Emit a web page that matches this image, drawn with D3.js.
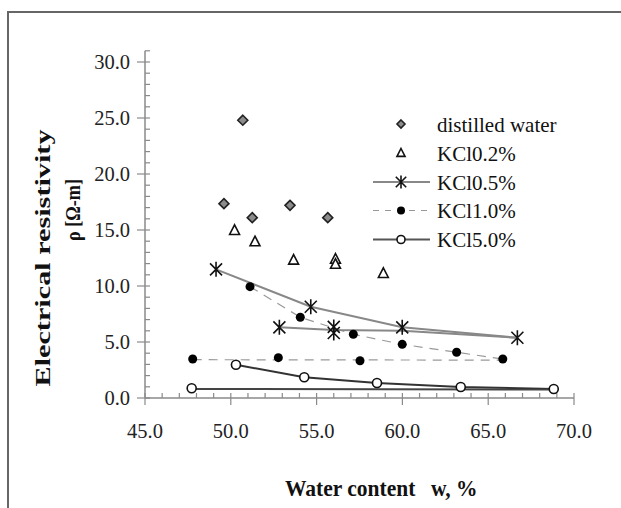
<!DOCTYPE html>
<html><head><meta charset="utf-8">
<script src="https://cdn.jsdelivr.net/npm/d3@7"></script>
<style>html,body{margin:0;padding:0;background:#fff;}svg{display:block;}</style>
</head><body>
<svg id="c" width="621" height="508"></svg>
<script>
// ---- data ----
const xTicks = [45, 50, 55, 60, 65, 70];
const yTicks = [0, 5, 10, 15, 20, 25, 30];
const legendLabels = ["distilled water", "KCl0.2%", "KCl0.5%", "KCl1.0%", "KCl5.0%"];

const waterW   = [50.7, 49.6, 51.25, 53.45, 55.65];
const waterRho = [24.8, 17.35, 16.1, 17.2, 16.1];

const kcl02W   = [50.22, 51.41, 53.66, 56.1, 56.1, 58.89];
const kcl02Rho = [14.97, 13.96, 12.32, 12.4, 11.95, 11.13];

const kcl05aW   = [49.14, 54.66, 59.99, 66.7];
const kcl05aRho = [11.49, 8.15, 6.31, 5.38];
const kcl05bW   = [52.83, 56.0, 56.0];
const kcl05bRho = [6.31, 6.35, 5.8];
const kcl05bLineW   = [52.83, 56.0, 60.0, 66.7];
const kcl05bLineRho = [6.31, 6.07, 6.0, 5.38];

const kcl10aW   = [51.12, 54.05, 57.14, 59.99, 63.16, 65.85];
const kcl10aRho = [9.94, 7.21, 5.69, 4.79, 4.08, 3.48];
const kcl10bW   = [47.78, 52.77, 57.53];
const kcl10bRho = [3.48, 3.6, 3.33];
const kcl10bLineW   = [47.78, 65.85];
const kcl10bLineRho = [3.42, 3.38];

const kcl50aW   = [50.3, 54.28, 58.52, 63.4, 68.82];
const kcl50aRho = [2.97, 1.85, 1.34, 0.98, 0.8];
const kcl50bW   = [47.72];
const kcl50bRho = [0.87];
const kcl50bLineW   = [47.72, 68.82];
const kcl50bLineRho = [0.8, 0.76];

// ---- drawing ----
const FONT = "Liberation Serif";
const svg = d3.select("#c").attr("font-family", FONT);
const x = d3.scaleLinear().domain([45, 70]).range([145, 574]);
const y = d3.scaleLinear().domain([0, 31]).range([398, 50.8]);
const axisCol = "#8a8a8a";

// frame
svg.append("path").attr("d", "M8,510 L8,12 L625,12").attr("fill", "none").attr("stroke", "#666").attr("stroke-width", 2);

// y axis
const gy = svg.append("g");
gy.append("line").attr("x1", x(45)).attr("x2", x(45)).attr("y1", y(0)).attr("y2", y(31)).attr("stroke", axisCol).attr("stroke-width", 1.5);
d3.range(0, 32, 1).forEach(v => {
  const major = v % 5 === 0;
  gy.append("line").attr("x1", x(45) - (major ? 8 : 0)).attr("x2", x(45) + 5)
    .attr("y1", y(v)).attr("y2", y(v)).attr("stroke", axisCol).attr("stroke-width", 1.2);
});
gy.selectAll("text.yt").data(yTicks).join("text").attr("class", "yt")
  .attr("x", 130).attr("y", d => y(d) + 7).attr("text-anchor", "end").attr("font-family", FONT)
  .attr("font-size", 20.5).attr("fill", "#222").text(d => d.toFixed(1));

// x axis
const gx = svg.append("g");
gx.append("line").attr("x1", x(45)).attr("x2", x(70)).attr("y1", y(0)).attr("y2", y(0)).attr("stroke", axisCol).attr("stroke-width", 1.5);
d3.range(45, 71, 1).forEach(v => {
  const major = v % 5 === 0;
  gx.append("line").attr("x1", x(v)).attr("x2", x(v))
    .attr("y1", y(0) - 5).attr("y2", y(0) + (major ? 7 : 0)).attr("stroke", axisCol).attr("stroke-width", 1.2);
});
gx.selectAll("text.xt").data(xTicks).join("text").attr("class", "xt")
  .attr("x", d => x(d)).attr("y", 438).attr("text-anchor", "middle").attr("font-family", FONT)
  .attr("font-size", 20.5).attr("fill", "#222").text(d => d.toFixed(1));

// axis titles
const xt = svg.append("text").attr("transform", "translate(0,496) scale(1,1.1)").attr("font-size", 21.5).attr("font-weight", "bold").attr("fill", "#111").attr("font-family", FONT);
xt.append("tspan").attr("x", 285).attr("y", 0).text("Water content");
xt.append("tspan").attr("x", 431).attr("y", 0).text("w, %");

svg.append("text").attr("transform", "translate(50,258) rotate(-90)").attr("text-anchor", "middle").attr("font-family", FONT)
  .attr("font-size", 22).attr("font-weight", "bold").attr("fill", "#111")
  .attr("textLength", 257).attr("lengthAdjust", "spacingAndGlyphs").text("Electrical resistivity");
svg.append("text").attr("transform", "translate(80,210) rotate(-90)").attr("text-anchor", "middle").attr("font-family", FONT)
  .attr("font-size", 22).attr("font-weight", "bold").attr("fill", "#111")
  .attr("textLength", 62).attr("lengthAdjust", "spacingAndGlyphs").text("ρ [Ω-m]");

// lines
const line = d3.line().x(d => x(d[0])).y(d => y(d[1]));
const zip = (a, b) => a.map((v, i) => [v, b[i]]);
const plot = svg.append("g");
plot.append("path").attr("d", line(zip(kcl10aW, kcl10aRho))).attr("fill", "none").attr("stroke", "#999").attr("stroke-width", 1.2).attr("stroke-dasharray", "9,7");
plot.append("path").attr("d", line(zip(kcl10bLineW, kcl10bLineRho))).attr("fill", "none").attr("stroke", "#999").attr("stroke-width", 1.2).attr("stroke-dasharray", "9,7");
plot.append("path").attr("d", line(zip(kcl05aW, kcl05aRho))).attr("fill", "none").attr("stroke", "#888").attr("stroke-width", 2);
plot.append("path").attr("d", line(zip(kcl05bLineW, kcl05bLineRho))).attr("fill", "none").attr("stroke", "#888").attr("stroke-width", 2);
plot.append("path").attr("d", line(zip(kcl50aW, kcl50aRho))).attr("fill", "none").attr("stroke", "#333").attr("stroke-width", 2);
plot.append("path").attr("d", line(zip(kcl50bLineW, kcl50bLineRho))).attr("fill", "none").attr("stroke", "#444").attr("stroke-width", 2);

// marker drawers
function diamond(g, cx, cy, s) {
  g.append("path").attr("d", `M${cx},${cy - s} L${cx + s},${cy} L${cx},${cy + s} L${cx - s},${cy} Z`)
    .attr("fill", "#8c8c8c").attr("stroke", "#222").attr("stroke-width", 1.6);
}
function triangle(g, cx, cy, s) {
  g.append("path").attr("d", `M${cx},${cy - s} L${cx + s * 0.9},${cy + s * 0.75} L${cx - s * 0.9},${cy + s * 0.75} Z`)
    .attr("fill", "#fff").attr("stroke", "#111").attr("stroke-width", 1.6);
}
function star(g, cx, cy, s) {
  const d = s * 0.8;
  g.append("path").attr("d", `M${cx},${cy - s} L${cx},${cy + s} M${cx - d},${cy - d} L${cx + d},${cy + d} M${cx - d},${cy + d} L${cx + d},${cy - d}`)
    .attr("stroke", "#111").attr("stroke-width", 1.6).attr("fill", "none");
}
function dot(g, cx, cy, r) {
  g.append("circle").attr("cx", cx).attr("cy", cy).attr("r", r).attr("fill", "#000");
}
function ring(g, cx, cy, r) {
  g.append("circle").attr("cx", cx).attr("cy", cy).attr("r", r).attr("fill", "#fff").attr("stroke", "#111").attr("stroke-width", 1.6);
}

waterW.forEach((w, i) => diamond(plot, x(w), y(waterRho[i]), 5));
kcl02W.forEach((w, i) => triangle(plot, x(w), y(kcl02Rho[i]), 5.5));
kcl05aW.forEach((w, i) => star(plot, x(w), y(kcl05aRho[i]), 7.5));
kcl05bW.forEach((w, i) => star(plot, x(w), y(kcl05bRho[i]), 7.5));
kcl10aW.forEach((w, i) => dot(plot, x(w), y(kcl10aRho[i]), 4.5));
kcl10bW.forEach((w, i) => dot(plot, x(w), y(kcl10bRho[i]), 4.5));
kcl50aW.forEach((w, i) => ring(plot, x(w), y(kcl50aRho[i]), 4.5));
kcl50bW.forEach((w, i) => ring(plot, x(w), y(kcl50bRho[i]), 4.5));

// legend
const lg = svg.append("g");
const rowY = [124, 153, 182, 210.5, 239.5];
const lx0 = 373, lx1 = 430, mx = 401, tx = 437;
lg.append("line").attr("x1", lx0).attr("x2", lx1).attr("y1", rowY[2]).attr("y2", rowY[2]).attr("stroke", "#888").attr("stroke-width", 2);
lg.append("line").attr("x1", lx0).attr("x2", lx1).attr("y1", rowY[3]).attr("y2", rowY[3]).attr("stroke", "#999").attr("stroke-width", 1.2).attr("stroke-dasharray", "6,6");
lg.append("line").attr("x1", lx0).attr("x2", lx1).attr("y1", rowY[4]).attr("y2", rowY[4]).attr("stroke", "#555").attr("stroke-width", 2);
diamond(lg, mx, rowY[0], 4);
triangle(lg, mx, rowY[1], 4.5);
star(lg, mx, rowY[2], 6.5);
dot(lg, mx, rowY[3], 4);
ring(lg, mx, rowY[4], 4);
lg.selectAll("text").data(legendLabels).join("text")
  .attr("x", tx).attr("y", (d, i) => rowY[i] + 7.5).attr("font-family", FONT).attr("font-size", 21).attr("fill", "#111").text(d => d);
</script>
</body></html>
